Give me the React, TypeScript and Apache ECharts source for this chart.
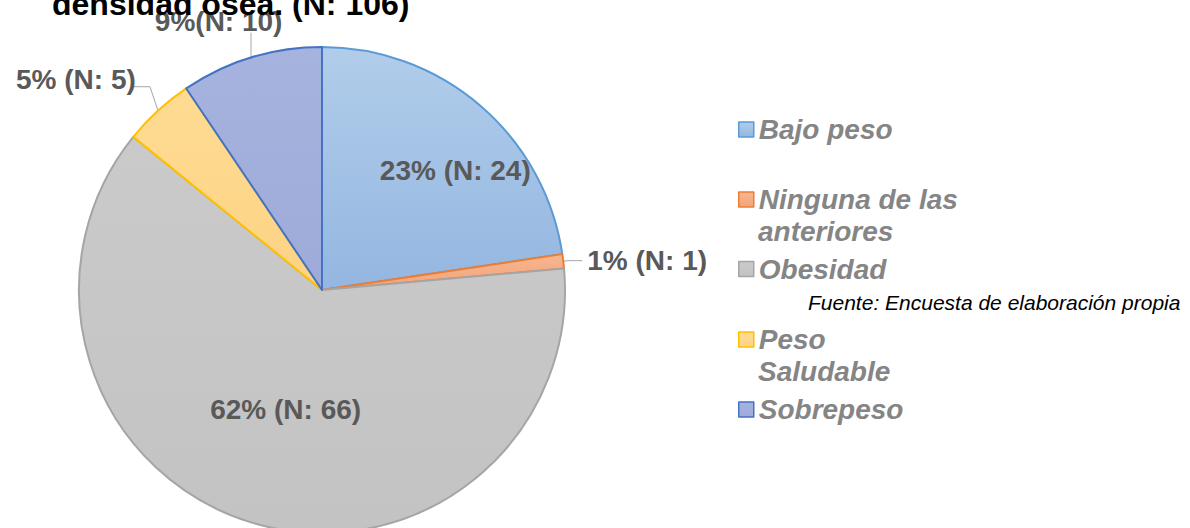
import React, { useEffect, useRef } from "react";
import * as echarts from "echarts";

const categories = ["Bajo peso", "Ninguna de las anteriores", "Obesidad", "Peso Saludable", "Sobrepeso"];
const counts = [24, 1, 66, 5, 10];
const labelSeparators = [" ", " ", " ", " ", ""];
const legendFirstLines = ["Bajo peso", "Ninguna de las", "Obesidad", "Peso", "Sobrepeso"];
const legendSecondLines = ["", "anteriores", "", "Saludable", ""];
const titleText = "densidad ósea. (N: 106)";
const sourceText = "Fuente: Encuesta de elaboración propia";

const borderColors = ["#5b9bd5", "#ed7d31", "#a5a5a5", "#ffc000", "#4472c4"];
const fillTop = ["#b1cdea", "#f6b690", "#cacaca", "#fedb93", "#a6b3de"];
const fillBottom = ["#94b6e0", "#f3a47a", "#c3c3c3", "#fdd384", "#9eabd9"];
const labelPositions = ["inside", "outside", "inside", "outside", "outside"];
const lineLen1 = [0, 5, 0, 24, 26];
const lineLen2 = [0, 14, 0, 16, 0];
const legendCenters = [129.5, 199.5, 269, 339.5, 409.5];

export default function App() {
  const ref = useRef<HTMLDivElement>(null);
  useEffect(() => {
    if (!ref.current) return;
    const chart = echarts.init(ref.current, null, { renderer: "svg" });
    const font = "'Liberation Sans', Arial, sans-serif";
    const data = categories.map((name, i) => ({
      name,
      value: counts[i],
      itemStyle: {
        color: new echarts.graphic.LinearGradient(0, 0, 0, 1, [
          { offset: 0, color: fillTop[i] },
          { offset: 1, color: fillBottom[i] },
        ]),
        borderColor: borderColors[i],
        borderWidth: 2,
      },
      label: { position: labelPositions[i] },
      labelLine: {
        show: labelPositions[i] === "outside",
        length: lineLen1[i],
        length2: lineLen2[i],
      },
    }));
    const legends = categories.map((name, i) => ({
      data: [name],
      orient: "vertical",
      left: 738,
      top: legendCenters[i] - 17,
      padding: 0,
      itemWidth: 15,
      itemHeight: 15,
      icon: "rect",
      selectedMode: false,
      itemStyle: { borderWidth: 1.5 },
      formatter: () => legendFirstLines[i],
      textStyle: {
        fontFamily: font,
        fontSize: 28,
        fontWeight: "bold",
        fontStyle: "italic",
        color: "#858585",
        lineHeight: 34,
      },
    }));
    const graphics: any[] = [];
    legendSecondLines.forEach((t, i) => {
      if (!t) return;
      graphics.push({
        type: "text",
        x: 758,
        y: legendCenters[i] + 32,
        style: {
          text: t,
          font: `italic bold 28px ${font}`,
          fill: "#858585",
          verticalAlign: "middle",
        },
      });
    });
    graphics.push({
      type: "text",
      x: 808,
      y: 302,
      style: {
        text: sourceText,
        font: `italic 21px ${font}`,
        fill: "#000000",
        verticalAlign: "middle",
      },
    });
    chart.setOption({
      animation: false,
      backgroundColor: "#ffffff",
      title: {
        text: titleText,
        left: 52,
        top: -12,
        padding: 0,
        textStyle: { fontFamily: font, fontSize: 32, fontWeight: "bold", color: "#000000" },
      },
      legend: legends,
      graphic: graphics,
      series: [
        {
          type: "pie",
          center: [322, 290],
          radius: 243,
          startAngle: 90,
          clockwise: true,
          avoidLabelOverlap: false,
          percentPrecision: 0,
          label: {
            show: true,
            fontFamily: font,
            fontSize: 28,
            fontWeight: "bold",
            color: "#595959",
            formatter: (p: any) => `${p.percent}%${labelSeparators[p.dataIndex]}(N: ${p.value})`,
          },
          labelLine: { lineStyle: { color: "#a6a6a6", width: 1 }, smooth: false },
          labelLayout: (p: any) => {
            const pts = p.labelLinePoints;
            if (p.dataIndex === 0) return { dx: 52, dy: -25 };
            if (p.dataIndex === 3 && pts && pts[0]) {
              const a = pts[0];
              return {
                dx: 15,
                dy: -13,
                labelLinePoints: [a, [a[0] - 8, a[1] - 24], [a[0] - 25, a[1] - 24]],
              };
            }
            if (p.dataIndex === 4 && pts && pts[0]) {
              const a = pts[0];
              return {
                dx: 44,
                dy: -11,
                labelLinePoints: [a, [a[0], a[1] - 25], [a[0], a[1] - 25]],
              };
            }
            return {};
          },
          emphasis: { disabled: true },
          data,
        },
      ],
    });
    return () => chart.dispose();
  }, []);
  return (
    <div
      ref={ref}
      style={{ position: "fixed", left: 0, top: 0, width: 1190, height: 528 }}
    />
  );
}
